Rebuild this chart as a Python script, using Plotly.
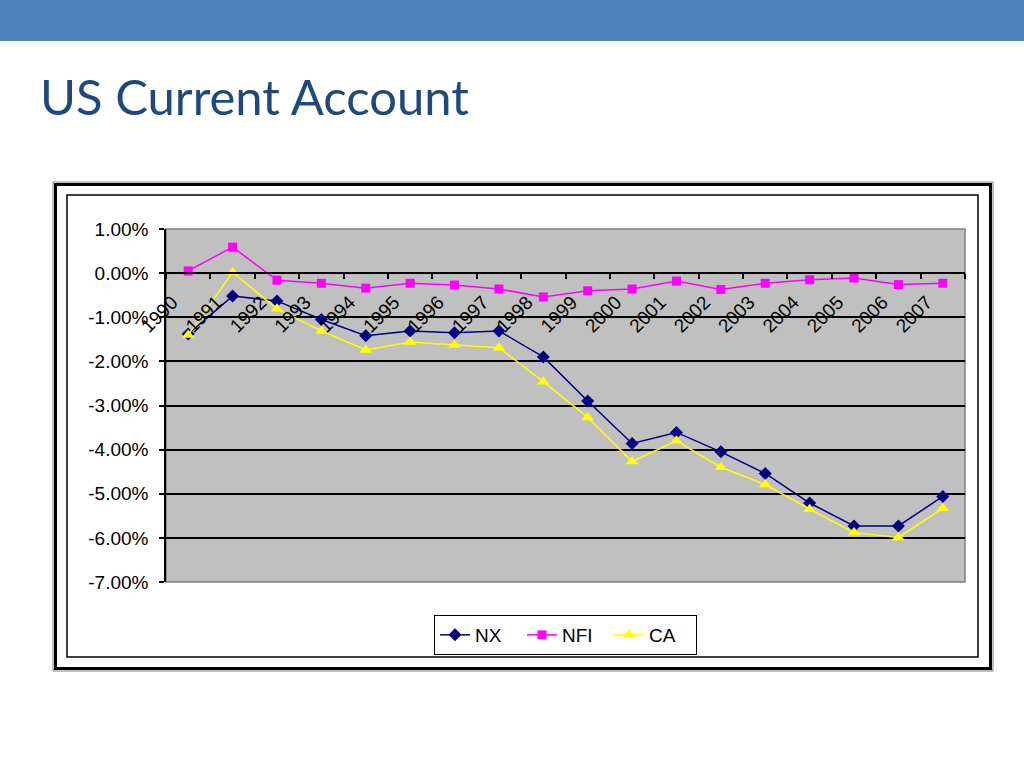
import plotly.graph_objects as go

# ── Data (percent of GDP) ──
years = [str(y) for y in range(1990, 2008)]
nx = [-1.38, -0.52, -0.63, -1.05, -1.42, -1.31, -1.35, -1.31, -1.90, -2.90,
      -3.86, -3.61, -4.05, -4.54, -5.21, -5.73, -5.73, -5.06]
nfi = [0.05, 0.59, -0.16, -0.23, -0.34, -0.23, -0.27, -0.36, -0.54, -0.40,
       -0.36, -0.18, -0.37, -0.23, -0.15, -0.11, -0.26, -0.23]
ca = [-1.40, 0.02, -0.81, -1.31, -1.74, -1.56, -1.63, -1.69, -2.46, -3.27,
      -4.27, -3.80, -4.40, -4.79, -5.35, -5.88, -5.99, -5.33]
y_ticks = [1, 0, -1, -2, -3, -4, -5, -6, -7]

W, H = 1024, 768


def px(x):
    return x / W


def py(y):
    return 1 - y / H


# plot area in page pixels
left, right, top, bottom = 166, 965, 229, 582
y_lo, y_hi = -7, 1
zero_pos = py(bottom) + (0 - y_lo) / (y_hi - y_lo) * (py(top) - py(bottom))

font_axis = "Liberation Sans, Arial, sans-serif"

fig = go.Figure()
fig.add_trace(go.Scatter(
    x=years, y=nx, name="NX", mode="lines+markers",
    line=dict(color="#000080", width=1.5),
    marker=dict(symbol="diamond", size=10, color="#000080"),
))
fig.add_trace(go.Scatter(
    x=years, y=nfi, name="NFI", mode="lines+markers",
    line=dict(color="#FF00FF", width=1.5),
    marker=dict(symbol="square", size=9, color="#FF00FF"),
))
fig.add_trace(go.Scatter(
    x=years, y=ca, name="CA", mode="lines+markers",
    line=dict(color="#FFFF00", width=1.5),
    marker=dict(symbol="triangle-up", size=11, color="#FFFF00"),
))

shapes = [
    # header bar
    dict(type="rect", xref="paper", yref="paper", x0=0, x1=1, y0=py(41), y1=1,
         fillcolor="#4F81BD", line=dict(width=0), layer="below"),
    # chart frame
    dict(type="rect", xref="paper", yref="paper",
         x0=px(53), x1=px(993), y0=py(671), y1=py(182),
         line=dict(color="#808080", width=1)),
    dict(type="rect", xref="paper", yref="paper",
         x0=px(55.5), x1=px(990.5), y0=py(668.5), y1=py(184.5),
         line=dict(color="black", width=3)),
    dict(type="rect", xref="paper", yref="paper",
         x0=px(67), x1=px(978), y0=py(657), y1=py(195),
         line=dict(color="black", width=1.5)),
    # plot area border
    dict(type="rect", xref="x domain", yref="y domain", x0=0, x1=1, y0=0, y1=1,
         line=dict(color="#808080", width=1.5), layer="below"),
]

fig.update_layout(
    width=W, height=H,
    margin=dict(l=0, r=0, t=0, b=0, pad=0, autoexpand=False),
    paper_bgcolor="white",
    plot_bgcolor="#C0C0C0",
    shapes=shapes,
    annotations=[dict(
        text="US Current Account", xref="paper", yref="paper",
        x=px(38), y=py(96), xanchor="left", yanchor="middle", showarrow=False,
        font=dict(family="Lato, Noto Sans, sans-serif", size=49, color="#1F497D"),
    )],
    xaxis=dict(
        domain=[px(left), px(right)], type="category", range=[-0.5, 17.5],
        anchor="free", position=zero_pos, automargin=False,
        showline=True, linecolor="black", linewidth=1.5,
        ticks="outside", tickson="boundaries", ticklen=5, tickcolor="black",
        tickwidth=1.5, tickangle=-45, showgrid=False,
        ticklabelstandoff=10, ticklabelshift=-16,
        tickfont=dict(family=font_axis, size=19, color="black"),
    ),
    yaxis=dict(
        domain=[py(bottom), py(top)], range=[y_lo, y_hi], automargin=False,
        tickvals=y_ticks, ticktext=[f"{v:.2f}%" for v in y_ticks],
        showline=True, linecolor="black", linewidth=1.5,
        ticks="outside", ticklen=5, tickcolor="black", tickwidth=1.5,
        ticklabelstandoff=7,
        showgrid=True, gridcolor="black", gridwidth=1.5, zeroline=False,
        tickfont=dict(family=font_axis, size=19, color="black"),
    ),
    showlegend=True,
    legend=dict(
        orientation="h", x=px(434), y=py(615), xanchor="left", yanchor="top",
        bordercolor="black", borderwidth=1, bgcolor="white",
        font=dict(family=font_axis, size=19, color="black"),
        entrywidth=42, entrywidthmode="pixels",
    ),
)

fig.write_html(
    "out.html",
    config={"displayModeBar": False},
    post_script="document.body.style.margin='0';document.body.style.overflow='hidden';",
)
